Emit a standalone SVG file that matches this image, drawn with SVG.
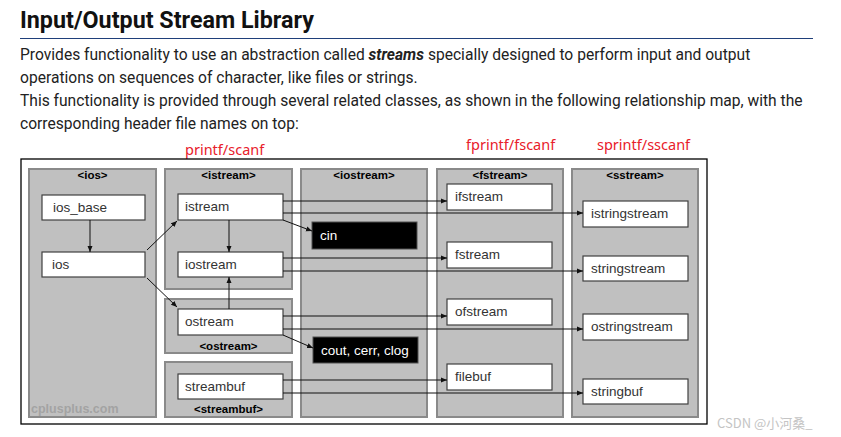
<svg xmlns="http://www.w3.org/2000/svg" width="841" height="437" viewBox="0 0 841 437">
<style>
.h{font-family:Roboto,"Liberation Sans",sans-serif;font-weight:bold;font-size:23.3px;fill:#111}
.p{font-family:Roboto,"Liberation Sans",sans-serif;font-size:15.6px;fill:#222}
.red{font-family:"Noto Sans","Liberation Sans",sans-serif;font-size:14.5px;fill:#e8202a}
.panel{fill:#c0c0c0;stroke:#8a8a8a;stroke-width:2}
.box{fill:#fff;stroke:#404040;stroke-width:1.2}
.blk{fill:#000;stroke:#505050;stroke-width:1}
.pt{font-family:"Liberation Sans",Arial,sans-serif;font-weight:bold;font-size:11.5px;fill:#000;text-anchor:middle}
.bt{font-family:"Liberation Sans",Arial,sans-serif;font-size:13.5px;fill:#333}
.wt{font-family:"Liberation Sans",Arial,sans-serif;font-size:13.5px;fill:#fff}
.c line{stroke:#111;stroke-width:1}
</style>
<defs>
<marker id="ah" viewBox="0 0 6 6" refX="6" refY="3" markerWidth="6" markerHeight="6" orient="auto" markerUnits="userSpaceOnUse">
<path d="M0,0.5 L6,3 L0,5.5 z" fill="#111"/>
</marker>
</defs>
<rect width="841" height="437" fill="#fff"/>
<text class="h" x="20" y="28">Input/Output Stream Library</text>
<line x1="20" y1="38.5" x2="813" y2="38.5" stroke="#1f3f7a" stroke-width="1.2"/>
<text class="p" x="20" y="60">Provides functionality to use an abstraction called <tspan font-weight="bold" font-style="italic">streams</tspan> specially designed to perform input and output</text>
<text class="p" x="20" y="83">operations on sequences of character, like files or strings.</text>
<text class="p" x="20" y="106">This functionality is provided through several related classes, as shown in the following relationship map, with the</text>
<text class="p" x="20" y="129">corresponding header file names on top:</text>
<text class="red" x="185" y="155">printf/scanf</text>
<text class="red" x="466" y="150">fprintf/fscanf</text>
<text class="red" x="597" y="150">sprintf/sscanf</text>
<rect x="21" y="159" width="686" height="265" fill="#fff" stroke="#000" stroke-width="1.3"/>
<g id="panel-ios"><rect class="panel" x="29" y="169" width="127" height="248"/><text class="pt" x="92.5" y="179">&lt;ios&gt;</text><text x="31" y="413" font-family="Liberation Sans,Arial,sans-serif" font-size="12.5px" font-weight="bold" fill="#a3a3a3">cplusplus.com</text></g>
<g id="panel-istream"><rect class="panel" x="165" y="169" width="127" height="120"/><text class="pt" x="228.5" y="179">&lt;istream&gt;</text></g>
<g id="panel-ostream"><rect class="panel" x="165" y="299" width="127" height="54"/><text class="pt" x="228.5" y="350">&lt;ostream&gt;</text></g>
<g id="panel-streambuf"><rect class="panel" x="165" y="362" width="127" height="55"/><text class="pt" x="228.5" y="413">&lt;streambuf&gt;</text></g>
<g id="panel-iostream"><rect class="panel" x="301" y="169" width="126" height="248"/><text class="pt" x="364" y="179">&lt;iostream&gt;</text></g>
<g id="panel-fstream"><rect class="panel" x="437" y="169" width="126" height="248"/><text class="pt" x="500" y="179">&lt;fstream&gt;</text></g>
<g id="panel-sstream"><rect class="panel" x="572" y="169" width="126" height="248"/><text class="pt" x="635" y="179">&lt;sstream&gt;</text></g>
<g id="ios_base"><rect class="box" x="42" y="195" width="103" height="25"/><text class="bt" x="53" y="212">ios_base</text></g>
<g id="ios"><rect class="box" x="42" y="252" width="103" height="25"/><text class="bt" x="52" y="269">ios</text></g>
<g id="istream"><rect class="box" x="178" y="194" width="105" height="26"/><text class="bt" x="185" y="211">istream</text></g>
<g id="iostream"><rect class="box" x="178" y="252" width="105" height="25"/><text class="bt" x="185" y="269">iostream</text></g>
<g id="ostream"><rect class="box" x="178" y="309" width="105" height="26"/><text class="bt" x="185" y="326">ostream</text></g>
<g id="streambuf"><rect class="box" x="178" y="374" width="105" height="25"/><text class="bt" x="185" y="391">streambuf</text></g>
<g id="cin"><rect class="blk" x="312" y="222" width="105" height="27"/><text class="wt" x="320" y="240">cin</text></g>
<g id="cout"><rect class="blk" x="313" y="337" width="105" height="26"/><text class="wt" x="321" y="355">cout, cerr, clog</text></g>
<g id="ifstream"><rect class="box" x="447" y="184" width="105" height="26"/><text class="bt" x="455" y="201">ifstream</text></g>
<g id="fstream"><rect class="box" x="447" y="242" width="105" height="26"/><text class="bt" x="455" y="259">fstream</text></g>
<g id="ofstream"><rect class="box" x="447" y="299" width="105" height="26"/><text class="bt" x="455" y="316">ofstream</text></g>
<g id="filebuf"><rect class="box" x="447" y="364" width="105" height="26"/><text class="bt" x="455" y="381">filebuf</text></g>
<g id="istringstream"><rect class="box" x="583" y="201" width="105" height="26"/><text class="bt" x="591" y="218">istringstream</text></g>
<g id="stringstream"><rect class="box" x="583" y="256" width="105" height="25"/><text class="bt" x="591" y="273">stringstream</text></g>
<g id="ostringstream"><rect class="box" x="583" y="314" width="105" height="26"/><text class="bt" x="591" y="331">ostringstream</text></g>
<g id="stringbuf"><rect class="box" x="583" y="379" width="105" height="25"/><text class="bt" x="591" y="396">stringbuf</text></g>
<g id="connectors" class="c">
<line x1="90" y1="220" x2="90" y2="252" marker-end="url(#ah)"/>
<line x1="147" y1="250" x2="177" y2="221" marker-end="url(#ah)"/>
<line x1="147" y1="278" x2="177" y2="307" marker-end="url(#ah)"/>
<line x1="229" y1="220" x2="229" y2="252" marker-end="url(#ah)"/>
<line x1="229" y1="309" x2="229" y2="277" marker-end="url(#ah)"/>
<line x1="283" y1="201" x2="447" y2="201" marker-end="url(#ah)"/>
<line x1="283" y1="213" x2="583" y2="213" marker-end="url(#ah)"/>
<line x1="283" y1="220" x2="312" y2="231" marker-end="url(#ah)"/>
<line x1="283" y1="258" x2="447" y2="258" marker-end="url(#ah)"/>
<line x1="283" y1="271" x2="583" y2="271" marker-end="url(#ah)"/>
<line x1="283" y1="316" x2="447" y2="316" marker-end="url(#ah)"/>
<line x1="283" y1="329" x2="583" y2="329" marker-end="url(#ah)"/>
<line x1="283" y1="335" x2="313" y2="348" marker-end="url(#ah)"/>
<line x1="283" y1="380" x2="447" y2="380" marker-end="url(#ah)"/>
<line x1="283" y1="393" x2="583" y2="393" marker-end="url(#ah)"/>
</g>
<text x="717" y="428" font-family="'Noto Sans CJK SC',sans-serif" font-size="13px" fill="#c4c4c4">CSDN @小河桑_</text>
</svg>
